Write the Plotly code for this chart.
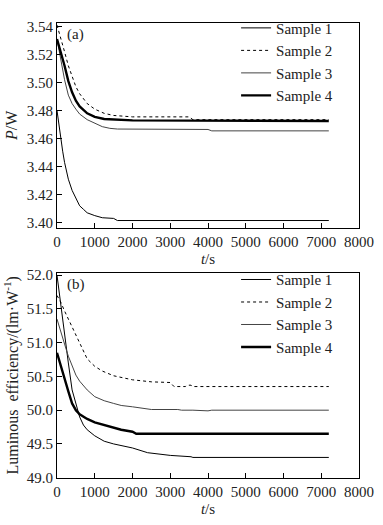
import plotly.graph_objects as go
from plotly.subplots import make_subplots

# ---------------- data: panel (a) power P/W ----------------
t_a1 = [0, 50, 100, 150, 200, 300, 400, 500, 600, 700, 800, 1000, 1200, 1500, 1600, 3000, 5000, 7200]
p_a1 = [3.480, 3.469, 3.458, 3.451, 3.443, 3.431, 3.423, 3.417, 3.412, 3.4095, 3.407, 3.405, 3.4035, 3.403, 3.4015, 3.4015, 3.4015, 3.4015]

t_a2 = [0, 100, 200, 300, 400, 500, 600, 800, 1000, 1250, 1500, 2000, 3500, 3600, 7200]
p_a2 = [3.541, 3.532, 3.522, 3.512, 3.504, 3.497, 3.492, 3.485, 3.481, 3.478, 3.4765, 3.4755, 3.4755, 3.4735, 3.4735]

t_a3 = [0, 100, 200, 300, 400, 500, 600, 800, 1000, 1200, 1400, 1600, 4000, 4100, 7200]
p_a3 = [3.531, 3.515, 3.502, 3.491, 3.485, 3.481, 3.4775, 3.4735, 3.471, 3.4685, 3.4673, 3.4668, 3.4665, 3.4655, 3.4655]

t_a4 = [0, 100, 200, 300, 400, 500, 600, 800, 1000, 1250, 1500, 2000, 7200]
p_a4 = [3.531, 3.522, 3.512, 3.501, 3.493, 3.487, 3.483, 3.478, 3.4755, 3.474, 3.4735, 3.473, 3.4725]

# ---------------- data: panel (b) luminous efficiency ----------------
t_b1 = [0, 100, 200, 300, 400, 500, 600, 700, 800, 1000, 1250, 1500, 2000, 2400, 3000, 3550, 3600, 7200]
e_b1 = [52.0, 51.55, 51.1, 50.7, 50.3, 50.08, 49.9, 49.78, 49.71, 49.62, 49.54, 49.5, 49.44, 49.37, 49.33, 49.31, 49.30, 49.30]

t_b2 = [0, 100, 200, 300, 400, 500, 600, 700, 800, 1000, 1200, 1500, 2000, 2500, 3000, 3050, 3100, 3400, 3450, 3550, 3600, 7200]
e_b2 = [51.7, 51.6, 51.47, 51.35, 51.25, 51.13, 51.0, 50.87, 50.76, 50.65, 50.58, 50.51, 50.45, 50.42, 50.41, 50.38, 50.35, 50.35, 50.37, 50.37, 50.35, 50.35]

t_b3 = [0, 100, 200, 300, 400, 500, 600, 800, 1000, 1250, 1500, 1700, 2000, 2300, 2500, 3200, 3300, 3600, 4000, 4100, 7200]
e_b3 = [51.35, 51.15, 50.98, 50.8, 50.65, 50.52, 50.43, 50.3, 50.2, 50.14, 50.1, 50.07, 50.05, 50.03, 50.01, 50.01, 50.0, 50.0, 49.99, 50.0, 50.0]

t_b4 = [0, 100, 200, 300, 400, 500, 600, 800, 1000, 1250, 1500, 1700, 2000, 2100, 7200]
e_b4 = [50.85, 50.65, 50.45, 50.28, 50.1, 50.0, 49.94, 49.87, 49.82, 49.78, 49.74, 49.71, 49.68, 49.65, 49.65]

names = ["Sample 1", "Sample 2", "Sample 3", "Sample 4"]
x_ticks = [0, 1000, 2000, 3000, 4000, 5000, 6000, 7000, 8000]
y_ticks_a = [3.40, 3.42, 3.44, 3.46, 3.48, 3.50, 3.52, 3.54]
y_ticks_b = [49.0, 49.5, 50.0, 50.5, 51.0, 51.5, 52.0]

styles = [
    dict(color="black", width=1, dash="solid"),
    dict(color="black", width=1, dash="dot"),
    dict(color="#444444", width=1, dash="solid"),
    dict(color="black", width=2.4, dash="solid"),
]

FONT = "Liberation Serif"
TXT = "#222222"

fig = make_subplots(rows=2, cols=1)

series_a = [(t_a1, p_a1), (t_a2, p_a2), (t_a3, p_a3), (t_a4, p_a4)]
series_b = [(t_b1, e_b1), (t_b2, e_b2), (t_b3, e_b3), (t_b4, e_b4)]

for (tx, vy), nm, st in zip(series_a, names, styles):
    fig.add_trace(go.Scatter(x=tx, y=vy, mode="lines", name=nm, line=st,
                             legend="legend"), row=1, col=1)
for (tx, vy), nm, st in zip(series_b, names, styles):
    fig.add_trace(go.Scatter(x=tx, y=vy, mode="lines", name=nm, line=st,
                             legend="legend2"), row=2, col=1)

axis_common = dict(
    showline=True, linecolor="black", linewidth=1, mirror=True,
    ticks="inside", ticklen=5, tickcolor="black", tickwidth=1,
    showgrid=False, zeroline=False, automargin=False,
    ticklabeloverflow="allow",
    tickfont=dict(family=FONT, size=15, color=TXT),
)

fig.update_xaxes(axis_common)
fig.update_yaxes(axis_common)

title_font = dict(family=FONT, size=15, color=TXT)
fig.update_xaxes(range=[0, 8000], tickvals=x_ticks, domain=[0, 1],
                 title=dict(text="<i>t</i>/s", font=title_font, standoff=4),
                 row=1, col=1)
fig.update_xaxes(range=[0, 8000], tickvals=x_ticks, domain=[0, 1],
                 title=dict(text="<i>t</i>/s", font=title_font, standoff=4),
                 row=2, col=1)
fig.update_yaxes(range=[3.3965, 3.5425], tickvals=y_ticks_a, tickformat=".2f",
                 domain=[0.5505, 1],
                 title=dict(text="<i>P</i>/W", font=dict(title_font, size=16), standoff=5),
                 row=1, col=1)
fig.update_yaxes(range=[48.995, 52.04], tickvals=y_ticks_b, tickformat=".1f",
                 domain=[0, 0.4516],
                 title=dict(text="Luminous  efficiency/(lm·W<sup>-1</sup>)",
                            font=dict(title_font, size=16), standoff=4),
                 row=2, col=1)

legend_style = dict(
    font=dict(family=FONT, size=15, color=TXT),
    bgcolor="rgba(0,0,0,0)", borderwidth=0,
    xref="paper", yref="paper", xanchor="left", yanchor="top",
    itemwidth=30, tracegroupgap=0,
)

fig.update_layout(
    template="none",
    width=383, height=525,
    margin=dict(l=57, r=24, t=13, b=47),
    paper_bgcolor="white", plot_bgcolor="white",
    font=dict(family=FONT, size=15, color=TXT),
    legend=dict(legend_style, x=0.593, y=1.025),
    legend2=dict(legend_style, x=0.593, y=0.472),
    annotations=[
        dict(text="(a)", xref="x domain", yref="y domain", x=0.026, y=0.943,
             xanchor="left", yanchor="middle", showarrow=False,
             font=dict(family=FONT, size=15, color=TXT)),
        dict(text="(b)", xref="x2 domain", yref="y2 domain", x=0.026, y=0.943,
             xanchor="left", yanchor="middle", showarrow=False,
             font=dict(family=FONT, size=15, color=TXT)),
    ],
)

fig.write_html("out.html",
               config={"displayModeBar": False},
               post_script="document.body.style.margin='0';document.body.style.padding='0';")
